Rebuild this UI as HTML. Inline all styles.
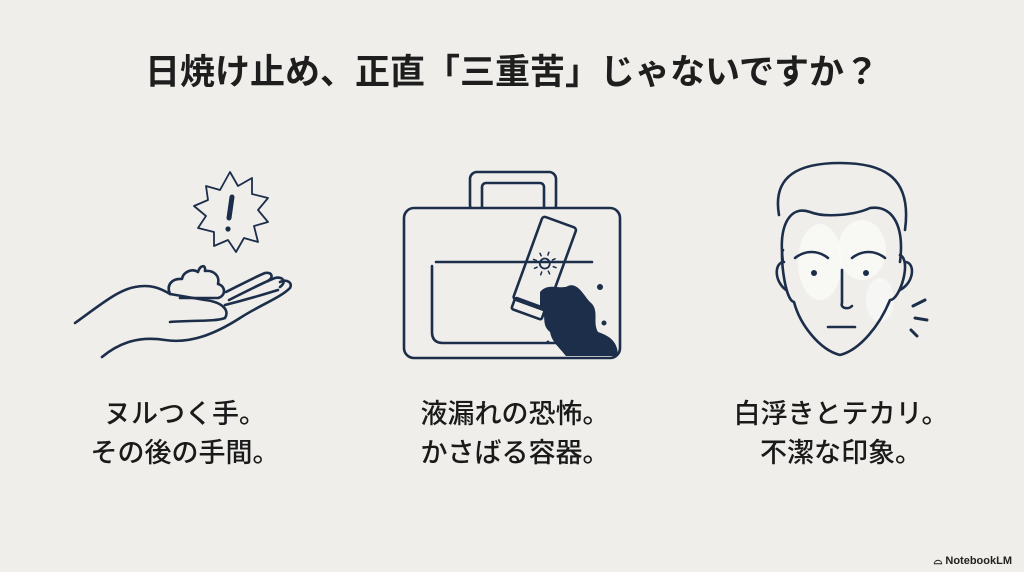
<!DOCTYPE html>
<html><head><meta charset="utf-8"><style>
html,body{margin:0;padding:0;background:#efeeea;}
.w{position:relative;width:1024px;height:572px;overflow:hidden;background:#efeeea;font-family:"Liberation Sans","Noto Sans CJK JP",sans-serif;color:#1e1e1e;}
.t{position:absolute;left:0;width:1024px;top:44px;text-align:center;font-size:35px;font-weight:bold;letter-spacing:0px;}
.c{position:absolute;width:300px;text-align:center;font-size:27px;line-height:39px;top:395px;color:#1a1a1a;font-weight:500;}
.nb{position:absolute;right:12px;bottom:4px;font-size:11px;font-weight:bold;color:#222;}
</style></head><body><div class="w">
<div class="t">日焼け止め、正直「三重苦」じゃないですか？</div>
<svg width="1024" height="572" style="position:absolute;left:0;top:0" fill="none" stroke="#1c2e4a" stroke-width="2.6" stroke-linecap="round" stroke-linejoin="round">
<!-- burst -->
<polygon points="230,172 238,186 252,178 252,194 268,198 258,210 268,222 254,226 258,242 244,238 236,252 228,240 214,246 214,232 198,228 206,216 194,206 208,200 206,186 220,190" stroke-width="1.8"/>
<path d="M232,197 L229,218" stroke-width="5"/>
<circle cx="228" cy="229" r="2.6" fill="#1c2e4a" stroke="none"/>
<!-- hand -->
<path d="M75,323 C100,305 118,290 135,287 C150,284 160,288 170,294 L205,300 C222,302 230,310 225,318 C215,322 190,320 170,322"/>
<path d="M102,357 C120,342 140,336 165,340 C190,344 215,334 240,318 C260,305 280,298 290,288 C293,282 286,279 280,282"/>
<path d="M229,300 C245,292 262,283 275,278 C283,276 287,282 280,287"/>
<path d="M226,292 C240,285 255,277 265,273 C272,272 274,277 268,281"/>
<path d="M225,305 C245,300 262,295 278,290"/>
<path d="M170,294 C166,285 172,278 182,279 C183,272 192,268 198,272 C200,265 206,264 205,271 C214,270 220,276 218,284 C226,286 226,296 218,298 L180,298"/>
<!-- bag -->
<rect x="470" y="172" width="86" height="40" rx="7"/>
<rect x="482" y="183" width="62" height="30" rx="4"/>
<rect x="404" y="208" width="216" height="150" rx="10" fill="#efeeea"/>
<path d="M432,266 V332 Q432,343 443,343 H592"/>
<g transform="rotate(20 540 265)">
<rect x="526" y="218" width="36" height="88" rx="3" fill="#efeeea"/>
<rect x="528" y="304" width="32" height="12" rx="2"/>
<circle cx="544" cy="262" r="5" stroke-width="1.8"/>
<path d="M544,250V253M544,271V274M532,262H535M553,262H556M536,254L538,256M550,268L552,270M552,254L550,256M536,270L538,268" stroke-width="1.5"/>
</g>
<path d="M436,262 H592" />
<path d="M540,292 C548,282 560,290 568,286 C578,282 584,296 590,302 C600,310 592,322 598,332 C610,336 618,342 618,356 H566 C558,346 552,342 550,332 C540,324 548,314 540,306 Z" fill="#1c2e4a" stroke="none"/>
<circle cx="600" cy="287" r="3" fill="#1c2e4a" stroke="none"/>
<circle cx="604" cy="323" r="2.5" fill="#1c2e4a" stroke="none"/>
<circle cx="548" cy="342" r="1.5" fill="#1c2e4a" stroke="none"/>
<!-- face -->
<ellipse cx="820" cy="262" rx="22" ry="38" fill="#fafaf8" stroke="none" opacity="0.8"/>
<ellipse cx="862" cy="250" rx="24" ry="30" fill="#fafaf8" stroke="none" opacity="0.8"/>
<ellipse cx="880" cy="300" rx="14" ry="22" fill="#fafaf8" stroke="none" opacity="0.7"/>
<path d="M779,215 C772,175 800,163 840,163 C885,163 912,178 905,230"/>
<path d="M783,262 C778,225 790,205 810,212 C825,218 855,215 870,208 C890,205 905,222 900,262"/>
<path d="M783,250 C780,250 784,300 794,302 C800,325 820,350 840,355 C860,350 880,325 890,300 C900,300 912,260 900,255"/>
<path d="M784,262 C775,262 773,280 786,290" />
<path d="M905,262 C915,262 915,282 900,290" />
<path d="M795,258 C805,250 818,250 828,258"/>
<path d="M852,258 C862,250 875,250 885,258"/>
<circle cx="814" cy="273" r="3" fill="#1c2e4a" stroke="none"/>
<circle cx="866" cy="273" r="3" fill="#1c2e4a" stroke="none"/>
<path d="M842,270 V303 C840,308 848,310 852,306"/>
<path d="M828,327 H855"/>
<path d="M913,306 L925,300 M915,318 L927,320 M911,330 L917,336" stroke-width="3"/>
</svg>
<div class="c" style="left:35px">ヌルつく手。<br>その後の手間。</div>
<div class="c" style="left:365px">液漏れの恐怖。<br>かさばる容器。</div>
<div class="c" style="left:691px">白浮きとテカリ。<br>不潔な印象。</div>
<div class="nb">⌓ NotebookLM</div>
</div></body></html>
